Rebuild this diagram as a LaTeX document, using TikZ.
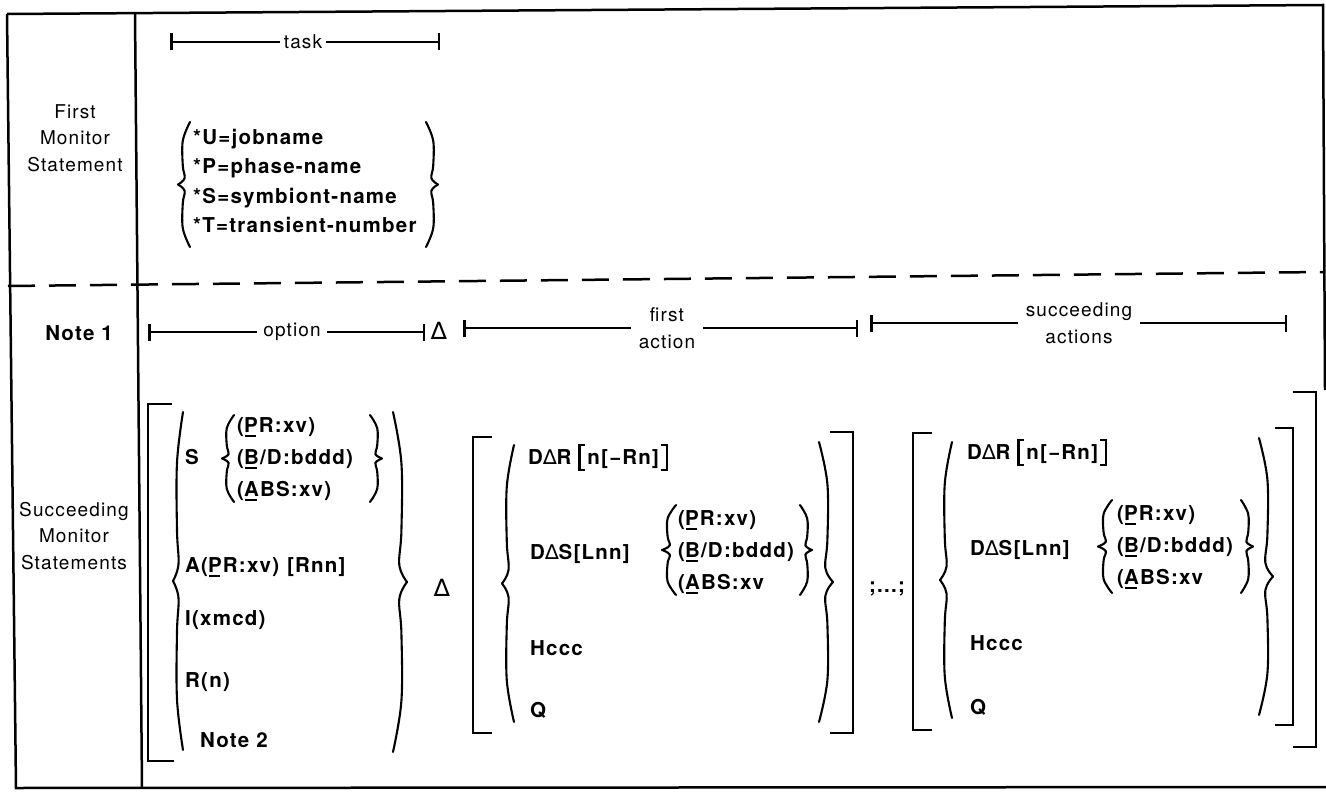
\documentclass[tikz,border=0pt]{standalone}
\usepackage{fontspec}
\setmainfont{TeX Gyre Heros}[LetterSpace=6]
\newfontfamily\symfont{DejaVu Sans}
\usetikzlibrary{arrows.meta}

\newcommand\labfont{\fontsize{19}{26.5}\selectfont}
\newcommand\itemfont{\fontsize{20.5}{25}\selectfont\bfseries}
\newcommand\undl[1]{\setbox0\hbox{#1}\rlap{\kern1pt\rule[-5pt]{\dimexpr\wd0-3pt\relax}{2.4pt}}#1}
\newcommand\tri{{\symfont\mdseries ∆}}
% tall square brackets inside a line
\newcommand\tbl{\rule[-7pt]{2.2pt}{27pt}\kern-2.2pt\rule[17.8pt]{7pt}{2.2pt}\kern-7pt\rule[-7pt]{7pt}{2.2pt}\kern2pt}
\newcommand\tbr{\kern2pt\rule[17.8pt]{7pt}{2.2pt}\kern-7pt\rule[-7pt]{7pt}{2.2pt}\kern-2.2pt\rule[-7pt]{2.2pt}{27pt}}
% curly brace: stem x, top y, bottom y, signed half width
\newcommand\brc[4]{%
  \pgfmathsetmacro\brcm{(#2+#3)/2}%
  \pgfmathsetmacro\brch{(#3-#2)/2}%
  \draw[brcline] plot[smooth, tension=.6] coordinates {({#1+(#4)},#2) ({#1-.2*(#4)},{#2+.3*\brch}) ({#1-.2*(#4)},{#2+.7*\brch}) ({#1+.1*(#4)},{\brcm-.1*\brch}) ({#1-(#4)},\brcm)};
  \draw[brcline] plot[smooth, tension=.6] coordinates {({#1-(#4)},\brcm) ({#1+.1*(#4)},{\brcm+.1*\brch}) ({#1-.2*(#4)},{#3-.7*\brch}) ({#1-.2*(#4)},{#3-.3*\brch}) ({#1+(#4)},#3)};
}

\tikzset{
  frame/.style={line width=2.5pt},
  brk/.style={line width=2.2pt},
  brcline/.style={line width=2.1pt, line cap=round},
  lab/.style={font=\labfont, align=center, inner sep=0pt},
  spanlab/.style={lab, inner xsep=6pt},
  item/.style={font=\itemfont, inner sep=0pt, text height=14pt, text depth=0pt, anchor=west},
  span/.style={line width=2pt},
  lspan/.style={span, {Bar[width=17pt,line width=2.5pt]}-},
  rspan/.style={span, -{Bar[width=17pt,line width=2.5pt]}}
}

\begin{document}
\begin{tikzpicture}[x=1pt, y=-1pt]
  \useasboundingbox (0,0) rectangle (1326,797);
  % frame
  \draw[frame] (7,14) -- (1323,5) -- (1325,390);
  \draw[frame] (7,14) -- (16,788) -- (1326,787);
  \draw[frame] (135,14) -- (142,788);
  \draw[frame, dash pattern=on 27pt off 14pt] (8,286) -- (1323,272);

  % first monitor statement
  \node[lab] (fms) at (75,138) {First\\Monitor\\Statement};
  \coordinate (taskl) at (170,42);
  \coordinate (taskr) at (440,42);
  \node[spanlab, inner xsep=4pt] (task) at (303,42) {task};
  \draw[lspan] (taskl) -- (task.west);
  \draw[rspan] (task.east) -- (taskr);
  \brc{184}{122}{247}{6}
  \brc{432}{122}{247}{-6}
  \node[item] (ujob) at (193,138) {*U=jobname};
  \node[item] (pphase) at (193,167) {*P=phase-name};
  \node[item] (ssym) at (193,197) {*S=symbiont-name};
  \node[item] (ttrans) at (193,225) {*T=transient-number};

  % succeeding monitor statements
  \node[lab] (sms) at (74,536) {Succeeding\\Monitor\\Statements};
  \node[lab, font=\itemfont] (note1) at (79,333) {Note 1};

  \coordinate (optl) at (148,332);
  \coordinate (optr) at (425,332);
  \node[spanlab] (opt) at (292,332) {option};
  \draw[lspan] (optl) -- (opt.west);
  \draw[rspan] (opt.east) -- (optr);
  \node[lab, font=\fontsize{24}{26}\selectfont] (tria) at (439,331) {\tri};

  \coordinate (fal) at (463,328);
  \coordinate (far) at (858,328);
  \node[spanlab, inner xsep=8pt] (fa) at (667,328) {first\\action};
  \draw[lspan] (fal) -- (fa.west);
  \draw[rspan] (fa.east) -- (far);

  \coordinate (sal) at (870,323);
  \coordinate (sar) at (1287,323);
  \node[spanlab, inner xsep=8pt] (sa) at (1079,323) {succeeding\\actions};
  \draw[lspan] (sal) -- (sa.west);
  \draw[rspan] (sa.east) -- (sar);

  % option
  \draw[brk] (172,404) -- (148,404) -- (148,761) -- (174,761);
  \brc{178}{412}{750}{5}
  \brc{400}{412}{752}{-7}
  \node[item] (s) at (185,457) {S};
  \brc{228}{415}{502}{6}
  \node[item] (spr) at (237,425) {(\undl{P}R:xv)};
  \node[item] (sbd) at (237,457) {(\undl{B}/D:bddd)};
  \node[item] (sabs) at (237,489) {(\undl{A}BS:xv)};
  \brc{376}{415}{502}{-6}
  \node[item] (apr) at (185,565) {A(\undl{P}R:xv)\hspace{8pt}[Rnn]};
  \node[item] (ixm) at (185,618) {I(xmcd)};
  \node[item] (rn) at (185,680) {R(n)};
  \node[item] (note2) at (200,740) {Note 2};
  \node[lab, font=\fontsize{24}{26}\selectfont] (trib) at (442,588) {\tri};

  % first action
  \draw[brk] (492,437) -- (473,437) -- (473,733) -- (492,733);
  \brc{508}{445}{722}{6}
  \node[item] (fdr) at (528,457) {D\tri R \tbl n[−Rn]\tbr};
  \node[item] (fds) at (530,552) {D\tri S[Lnn]};
  \brc{669}{505}{595}{7}
  \node[item] (fpr) at (678,518) {(\undl{P}R:xv)};
  \node[item] (fbd) at (678,550) {(\undl{B}/D:bddd)};
  \node[item] (fabs) at (678,582) {(\undl{A}BS:xv};
  \brc{806}{505}{595}{-6}
  \node[item] (fh) at (530,648) {Hccc};
  \node[item] (fq) at (530,710) {Q};
  \brc{826}{442}{722}{-7}
  \draw[brk] (830,432) -- (853,432) -- (853,733) -- (830,733);

  \node[item, anchor=center] (dots) at (887,585) {;...;};

  % succeeding actions
  \draw[brk] (932,433) -- (913,433) -- (913,730) -- (932,730);
  \brc{946}{442}{718}{6}
  \node[item] (sdr) at (967,452) {D\tri R \tbl n[−Rn]\tbr};
  \node[item] (sds) at (970,548) {D\tri S[Lnn]};
  \brc{1105}{500}{593}{7}
  \node[item] (ssp) at (1117,513) {(\undl{P}R:xv)};
  \node[item] (ssb) at (1117,545) {(\undl{B}/D:bddd)};
  \node[item] (ssa) at (1117,577) {(\undl{A}BS:xv};
  \brc{1247}{500}{593}{-6}
  \node[item] (sh) at (970,643) {Hccc};
  \node[item] (sq) at (970,707) {Q};
  \brc{1266}{438}{715}{-7}
  \draw[brk] (1275,428) -- (1293,428) -- (1293,725) -- (1275,725);
  \draw[brk] (1293,392) -- (1316,392) -- (1316,747) -- (1293,747);
\end{tikzpicture}
\end{document}
